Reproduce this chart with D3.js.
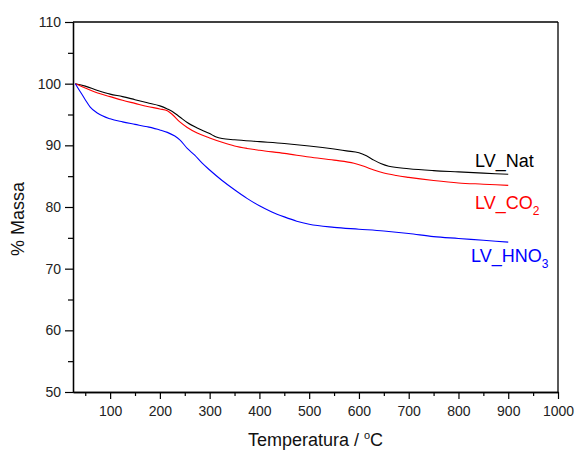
<!DOCTYPE html>
<html>
<head>
<meta charset="utf-8">
<script src="https://cdn.jsdelivr.net/npm/d3@7"></script>
<style>
  html, body { margin: 0; padding: 0; background: #fff; }
  svg { display: block; font-family: "Liberation Sans", Arial, sans-serif; }
</style>
</head>
<body>
<svg id="chart" width="576" height="452"></svg>
<script>
// ---- data ----
const natTemp = [30, 50, 75, 100, 125, 150, 175, 200, 215, 225, 240, 255, 275, 300, 312, 325, 350, 400, 450, 500, 550, 575, 600, 615, 630, 645, 660, 700, 750, 800, 850, 900];
const natMass = [100, 99.6, 98.9, 98.3, 97.9, 97.4, 96.9, 96.4, 95.9, 95.5, 94.6, 93.7, 92.8, 91.9, 91.4, 91.1, 90.9, 90.6, 90.3, 89.9, 89.4, 89.1, 88.8, 88.3, 87.6, 87.0, 86.6, 86.2, 85.9, 85.7, 85.5, 85.3];

const co2Temp = [30, 50, 75, 100, 125, 150, 175, 200, 215, 225, 240, 255, 275, 300, 325, 350, 375, 400, 450, 500, 550, 590, 610, 630, 650, 675, 700, 750, 800, 850, 900];
const co2Mass = [100, 99.3, 98.5, 97.9, 97.3, 96.8, 96.3, 95.9, 95.6, 95.0, 93.8, 92.9, 92.0, 91.2, 90.5, 89.9, 89.5, 89.2, 88.7, 88.1, 87.6, 87.1, 86.6, 86.0, 85.5, 85.1, 84.8, 84.3, 83.9, 83.7, 83.5];

const hno3Temp = [30, 40, 50, 60, 75, 100, 125, 150, 175, 200, 215, 230, 240, 255, 270, 285, 300, 325, 350, 375, 400, 425, 450, 475, 500, 550, 600, 650, 700, 750, 800, 850, 900];
const hno3Mass = [100, 98.7, 97.4, 96.2, 95.2, 94.3, 93.8, 93.4, 93.0, 92.5, 92.1, 91.5, 90.9, 89.5, 88.4, 87.1, 86.0, 84.3, 82.8, 81.4, 80.2, 79.2, 78.4, 77.7, 77.2, 76.7, 76.4, 76.1, 75.7, 75.2, 74.9, 74.6, 74.3];

const seriesNames = ["LV_Nat", "LV_CO2", "LV_HNO3"];
const xTicks = [100, 200, 300, 400, 500, 600, 700, 800, 900, 1000];
const xMinor = [50, 150, 250, 350, 450, 550, 650, 750, 850, 950];
const yTicks = [50, 60, 70, 80, 90, 100, 110];
const yMinor = [55, 65, 75, 85, 95, 105];

// ---- layout ----
const L = 73, R = 558, T = 22, B = 392;
const svg = d3.select("#chart");
const x = d3.scaleLinear().domain([25.4, 1000]).range([L, R]);
const y = d3.scaleLinear().domain([50, 110]).range([B, T]);

// frame (top / right)
svg.append("line").attr("x1", L).attr("x2", R).attr("y1", T).attr("y2", T)
  .attr("stroke", "#000").attr("stroke-width", 1.3);
svg.append("line").attr("x1", R).attr("x2", R).attr("y1", T).attr("y2", B)
  .attr("stroke", "#000").attr("stroke-width", 1.3);

// axes
const fmt = d3.format("d");
const xAxis = svg.append("g").attr("transform", `translate(0,${B})`)
  .call(d3.axisBottom(x).tickValues(xTicks).tickFormat(fmt).tickSize(7).tickPadding(7).tickSizeOuter(0));
const xAxisMinor = svg.append("g").attr("transform", `translate(0,${B})`)
  .call(d3.axisBottom(x).tickValues(xMinor).tickSize(4).tickFormat("").tickSizeOuter(0));
const yAxis = svg.append("g").attr("transform", `translate(${L},0)`)
  .call(d3.axisLeft(y).tickValues(yTicks).tickFormat(fmt).tickSize(8).tickPadding(4).tickSizeOuter(0));
const yAxisMinor = svg.append("g").attr("transform", `translate(${L},0)`)
  .call(d3.axisLeft(y).tickValues(yMinor).tickSize(5).tickFormat("").tickSizeOuter(0));

[xAxis, xAxisMinor, yAxis, yAxisMinor].forEach(g => {
  g.select(".domain").attr("stroke", "#000").attr("stroke-width", 1.3);
  g.selectAll(".tick line").attr("stroke", "#000").attr("stroke-width", 1.2);
  g.selectAll(".tick text").attr("fill", "#222").style("font-size", "14px")
    .style("font-family", "Liberation Sans, Arial, sans-serif");
});

// axis titles
const xt = svg.append("text").attr("x", (L + R) / 2).attr("y", 446)
  .attr("text-anchor", "middle").style("font-size", "18px").attr("fill", "#111");
xt.append("tspan").text("Temperatura / ");
xt.append("tspan").attr("dy", -7).style("font-size", "11px").text("o");
xt.append("tspan").attr("dy", 7).text("C");

svg.append("text").attr("transform", `translate(24,${(T + B) / 2 + 12}) rotate(-90)`)
  .attr("text-anchor", "middle").style("font-size", "18px").attr("fill", "#111")
  .text("% Massa");

// lines
const line = d3.line().curve(d3.curveMonotoneX).x(d => x(d[0])).y(d => y(d[1]));
const series = [
  { t: natTemp, m: natMass, color: "#000000" },
  { t: co2Temp, m: co2Mass, color: "#ff0000" },
  { t: hno3Temp, m: hno3Mass, color: "#0000ff" }
];
series.forEach(s => {
  svg.append("path").datum(s.t.map((t, i) => [t, s.m[i]]))
    .attr("d", line).attr("fill", "none").attr("stroke", s.color).attr("stroke-width", 1.1);
});

// labels
function label(xp, yp, base, sub, color) {
  const t = svg.append("text").attr("x", xp).attr("y", yp).attr("fill", color).style("font-size", "18px");
  t.append("tspan").text(base);
  if (sub) t.append("tspan").attr("dy", 6).style("font-size", "12px").text(sub);
}
label(475, 167, "LV_Nat", null, "#000");
label(475, 209, "LV_CO", "2", "#ff0000");
label(471, 262, "LV_HNO", "3", "#0000ff");
</script>
</body>
</html>
